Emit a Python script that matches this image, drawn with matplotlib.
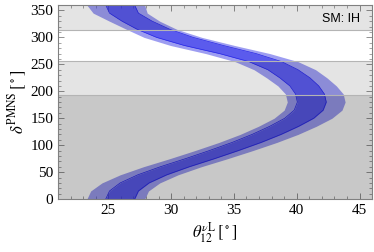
import matplotlib.pyplot as plt
import matplotlib as mpl
import numpy as np

mpl.rcParams['figure.dpi'] = 100
mpl.rcParams['mathtext.fontset'] = 'stix'
mpl.rcParams['font.family'] = ['Liberation Serif', 'DejaVu Serif']

# delta_PMNS grid (deg) and band edges in theta_12 (deg)
delta = [0, 15, 30, 45, 60, 75, 90, 105, 120, 135, 150, 165, 180,
         195, 210, 225, 240, 255, 270, 285, 300, 315, 330, 345, 360]
# 3 sigma band (outer)
outer_left = [23.3, 23.6, 24.5, 25.95, 27.8, 29.9, 31.9, 33.8, 35.5, 36.95, 38.2, 39.0, 39.25,
              39.1, 38.5, 37.6, 36.6, 35.1, 32.75, 29.95, 27.85, 26.45, 25.1, 23.8, 23.3]
outer_right = [27.9, 28.2, 29.1, 30.55, 32.4, 34.5, 36.5, 38.4, 40.1, 41.55, 42.8, 43.6, 43.85,
               43.7, 43.15, 42.4, 41.5, 40.1, 37.85, 35.05, 32.45, 30.45, 29.1, 28.1, 27.9]
# 1 sigma band (inner)
inner_left = [24.8, 25.1, 25.95, 27.35, 29.15, 31.15, 33.05, 34.85, 36.45, 37.85, 39.05, 39.8, 40.05,
              39.9, 39.45, 38.65, 37.7, 36.2, 33.85, 31.05, 28.85, 27.3, 26.1, 25.1, 24.8]
inner_right = [27.1, 27.4, 28.25, 29.65, 31.45, 33.45, 35.35, 37.15, 38.75, 40.15, 41.35, 42.1, 42.35,
               42.2, 41.75, 41.05, 40.1, 38.8, 36.75, 34.15, 31.75, 29.9, 28.5, 27.4, 27.1]

# experimental delta ranges (grey overlays)
region_edges = [0, 193, 256, 314, 360]
region_alpha = [0.215, 0.105, 0.0, 0.105]

fig = plt.figure(figsize=(3.74, 2.52))
ax = fig.add_axes([0.155, 0.21, 0.84, 0.77])

ax.fill_betweenx(delta, outer_left, outer_right, color=(0.3, 0.3, 0.9), alpha=0.55, lw=0, zorder=2)
ax.fill_betweenx(delta, inner_left, inner_right, color=(0.15, 0.15, 0.92), alpha=0.55, lw=0, zorder=3)
ax.plot(inner_left, delta, color=(0.15, 0.15, 0.9), lw=0.5, zorder=4)
ax.plot(inner_right, delta, color=(0.15, 0.15, 0.9), lw=0.5, zorder=4)

for i in range(len(region_alpha)):
    if region_alpha[i] > 0:
        ax.axhspan(region_edges[i], region_edges[i + 1], color='black',
                   alpha=region_alpha[i], lw=0, zorder=5)
for y in region_edges[1:-1]:
    ax.axhline(y, color='#b4b4b4', lw=0.8, zorder=6)

ax.set_xlim(21, 46)
ax.set_ylim(0, 360)
ax.set_xticks([25, 30, 35, 40, 45])
ax.set_yticks([0, 50, 100, 150, 200, 250, 300, 350])
ax.set_xticks(np.arange(21, 47, 1), minor=True)
ax.set_yticks(np.arange(0, 361, 10), minor=True)
ax.tick_params(which='both', direction='in', top=True, right=True, color='#808080', labelsize=11)
ax.tick_params(which='major', length=4, width=0.6)
ax.tick_params(which='minor', length=2, width=0.5)
for s in ax.spines.values():
    s.set_color('#808080')
    s.set_linewidth(0.8)
    s.set_zorder(7)

ax.set_xlabel(r'$\theta_{12}^{\nu\mathrm{L}}\,[^\circ]$', fontsize=12, labelpad=2)
ax.set_ylabel(r'$\delta^{\mathrm{PMNS}}\,[^\circ]$', fontsize=12, labelpad=1)
ax.text(0.96, 0.93, 'SM: IH', transform=ax.transAxes, ha='right', va='center',
        fontsize=9, family='Liberation Sans', zorder=8)

plt.savefig('out.png', dpi=100)
